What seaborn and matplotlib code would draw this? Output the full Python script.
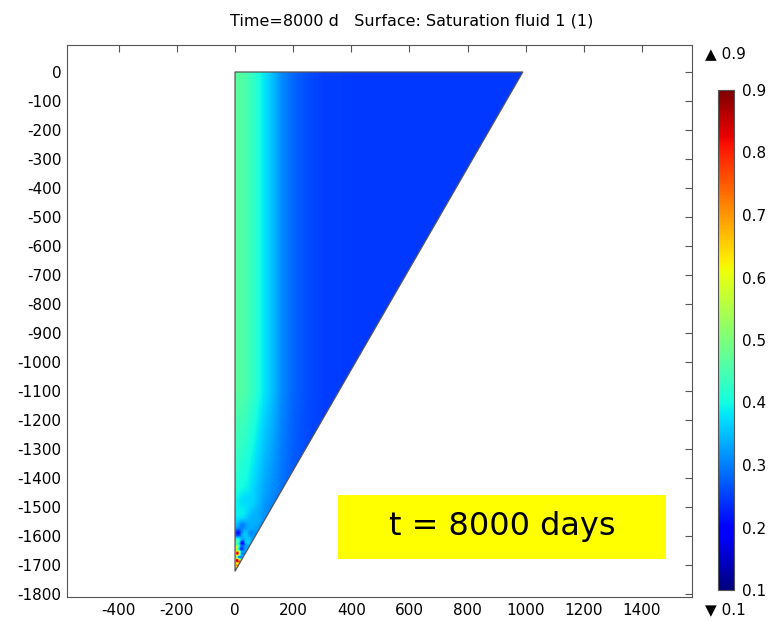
import numpy as np
import matplotlib
matplotlib.use("Agg")
import matplotlib.pyplot as plt
import seaborn as sns
from matplotlib.patches import Polygon, Rectangle

# ---- data ----
tri_x = [0, 990, 0]
tri_y = [0, 0, -1720]
profile_x = [0, 40, 70, 100, 130, 160, 200, 250, 300, 400, 1000]
level_y = [-1720, -1450, -1100, 0]
profile_bottom = [0.33, 0.31, 0.29, 0.27, 0.26, 0.25, 0.245, 0.245, 0.245, 0.245, 0.245]
profile_low = [0.41, 0.39, 0.36, 0.33, 0.31, 0.29, 0.27, 0.255, 0.25, 0.245, 0.245]
profile_mid = [0.47, 0.45, 0.42, 0.38, 0.35, 0.31, 0.28, 0.26, 0.25, 0.245, 0.245]
profile_top = [0.47, 0.45, 0.42, 0.38, 0.35, 0.31, 0.28, 0.26, 0.25, 0.245, 0.245]
spot_x = [40, 20, 65, 25, 10, 35, 55, 8, 25, 42, 6, 20, 8, 24, 14, 6, 18, 6]
spot_y = [-1480, -1520, -1540, -1565, -1590, -1595, -1590, -1620, -1625, -1620,
          -1640, -1645, -1660, -1662, -1675, -1685, -1690, -1702]
spot_s = [0.37, 0.39, 0.34, 0.30, 0.20, 0.36, 0.31, 0.48, 0.19, 0.37,
          0.62, 0.22, 0.88, 0.30, 0.20, 0.90, 0.85, 0.75]
spot_r = [30, 25, 25, 18, 14, 14, 12, 11, 10, 10, 9, 9, 10, 8, 6, 9, 8, 8]
x_ticks = list(range(-400, 1401, 200))
y_ticks = list(range(-1800, 1, 100))
cbar_ticks = [0.1, 0.2, 0.3, 0.4, 0.5, 0.6, 0.7, 0.8, 0.9]
title = "Time=8000 d   Surface: Saturation fluid 1 (1)"
label = "t = 8000 days"

sns.set_theme(style="white")
plt.rcParams['font.family'] = ['DejaVu Sans']
plt.rcParams['axes.unicode_minus'] = False
plt.rcParams['text.color'] = 'black'
plt.rcParams['xtick.color'] = 'black'
plt.rcParams['ytick.color'] = 'black'

fig = plt.figure(figsize=(7.69, 6.21), dpi=100)
ax = fig.add_axes([67/769, 24/621, 625/769, 552/621])

# field on grid: profiles across x at several depths, blended in y
gx = np.arange(0, 991, 2.0)
gy = np.arange(-1720, 1, 2.0)
X, Y = np.meshgrid(gx, gy)
profiles = [profile_bottom, profile_low, profile_mid, profile_top]
rows = np.array([np.interp(gx, profile_x, p) for p in profiles])  # (levels, nx)
S = np.empty_like(X)
for j, yv in enumerate(gy):
    S[j] = np.array([np.interp(yv, level_y, rows[:, i]) for i in range(len(gx))])
for sx, sy, sv, sr in zip(spot_x, spot_y, spot_s, spot_r):
    w = np.exp(-((X - sx)**2 + (Y - sy)**2) / sr**2)
    S = S * (1 - w) + sv * w
mask = X / tri_x[1] + (-Y) / (-tri_y[2]) > 1.01
S = np.ma.masked_where(mask, S)

cmap = matplotlib.colormaps["jet"]
im = ax.imshow(S, extent=(0, 990, -1720, 0), origin='lower', cmap=cmap,
               vmin=0.1, vmax=0.9, interpolation='nearest', aspect='auto')
poly = Polygon(np.column_stack([tri_x, tri_y]), closed=True, facecolor='none',
               edgecolor='#555555', linewidth=0.9, joinstyle='round')
ax.add_patch(poly)
im.set_clip_path(poly)

ax.set_xlim(-578, 1572)
ax.set_ylim(-1809, 93)
ax.set_xticks(x_ticks)
ax.set_yticks(y_ticks)
ax.tick_params(direction='in', top=True, right=True, length=5, width=0.8,
               color='#555555', labelsize=11, pad=4, labelcolor='black')
for sp in ax.spines.values():
    sp.set_color('#555555')
    sp.set_linewidth(0.8)

# label box
ax.add_patch(Rectangle((353, -1679), 1128, 220, facecolor='#ffff00', edgecolor='none', zorder=3))
ax.text(918, -1566, label, ha='center', va='center', fontsize=23, color='black', zorder=4)

# colorbar
cax = fig.add_axes([718/769, 31/621, 16/769, 500/621])
cb = fig.colorbar(im, cax=cax, ticks=cbar_ticks, format='%.1f')
cb.outline.set_edgecolor('#555555')
cb.outline.set_linewidth(0.8)
cax.tick_params(direction='in', length=3, width=0.8, color='#333333', labelsize=11,
                pad=6, labelcolor='black')

fig.text(705/769, 1 - 54/621, "\u25B2 0.9", ha='left', va='center', fontsize=11, color='black')
fig.text(705/769, 1 - 610/621, "\u25BC 0.1", ha='left', va='center', fontsize=11, color='black')
fig.text(412/769, 1 - 21/621, title, ha='center', va='center', fontsize=11.5, color='black')

fig.savefig("out.png", dpi=100)
